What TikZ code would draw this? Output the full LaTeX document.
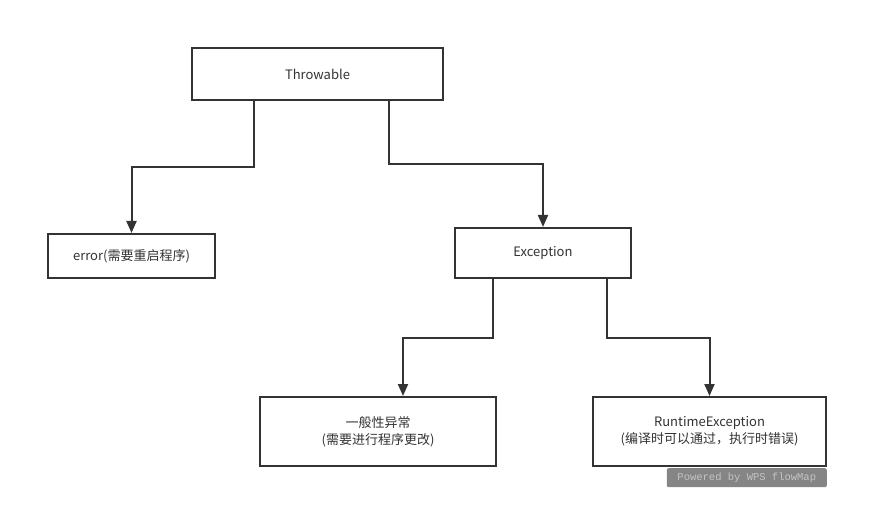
\documentclass[tikz,border=0pt]{standalone}
\usepackage{fontspec}
\setmainfont{Noto Sans CJK SC}
\newfontfamily\wmfont{Liberation Mono}
\usetikzlibrary{arrows.meta, positioning}
\definecolor{ink}{HTML}{333333}
\definecolor{mark}{HTML}{858585}
\definecolor{marktext}{HTML}{C4C4C4}

\begin{document}
\begin{tikzpicture}[
    x=1pt, y=-1pt,
    box/.style={
      draw=ink, fill=white, line width=2pt, inner sep=0pt,
      align=center, text=ink, font=\fontsize{13}{17}\selectfont
    },
    arrow/.style={-{Triangle[length=12pt, width=10pt]}, ink, line width=2pt},
    watermark/.style={fill=mark, rounded corners=2pt, inner sep=0pt,
      text=marktext, font=\wmfont\fontsize{10.5}{12}\selectfont}
  ]
  \useasboundingbox (0,0) rectangle (889,529);

  \node[box, minimum width=251pt, minimum height=52pt] (throwable) at (317.5,74) {Throwable};
  \node[box, minimum width=167pt, minimum height=44pt] (error) at (131.5,256) {error(需要重启程序)};
  \node[box, minimum width=176pt, minimum height=50pt] (exception) at (543,253) {Exception};
  \node[box, minimum width=236pt, minimum height=69pt] (general) at (378,431.5) {一般性异常\\(需要进行程序更改)};
  \node[box, minimum width=233pt, minimum height=69pt] (runtime) at (709.5,431.5) {RuntimeException\\(编译时可以通过，执行时错误)};

  \draw[arrow] ([xshift=-63.5pt]throwable.south) -- ++(0,66) -| (error.north);
  \draw[arrow] ([xshift=71.5pt]throwable.south) -- ++(0,63) -| (exception.north);
  \draw[arrow] ([xshift=-50pt]exception.south) -- ++(0,59) -| ([xshift=25pt]general.north);
  \draw[arrow] ([xshift=64pt]exception.south) -- ++(0,59) -| (runtime.north);

  \node[watermark, minimum width=160pt, minimum height=19pt, anchor=north east]
    (wps) at ([yshift=-1pt]runtime.south east) {Powered by WPS flowMap};
\end{tikzpicture}
\end{document}
